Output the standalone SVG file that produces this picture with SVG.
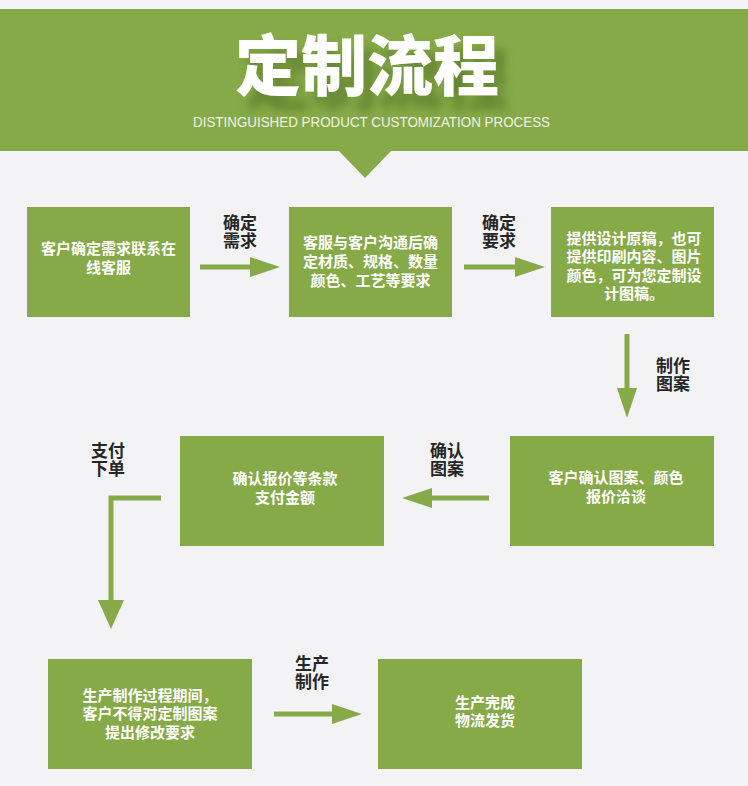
<svg xmlns="http://www.w3.org/2000/svg" width="748" height="786" viewBox="0 0 748 786">
<defs>
<style>
.box{fill:#86aa48}
.bt{font-family:"Noto Sans CJK SC","Noto Sans",sans-serif;font-size:15px;font-weight:700;fill:#ffffff;text-anchor:middle}
.lb{font-family:"Noto Sans CJK SC","Noto Sans",sans-serif;font-size:17px;font-weight:700;fill:#262626;text-anchor:middle}
.ln{fill:none;stroke:#86aa48;stroke-width:5}
</style>
<marker id="ah" markerUnits="userSpaceOnUse" markerWidth="32" markerHeight="20" refX="1" refY="10" orient="auto" viewBox="0 0 30 20">
<path d="M0,0 L30,10 L0,20 z" fill="#86aa48"/>
</marker>
<marker id="ahw" markerUnits="userSpaceOnUse" markerWidth="30" markerHeight="26" refX="1" refY="13" orient="auto" viewBox="0 0 29 26">
<path d="M0,0 L29,13 L0,26 z" fill="#86aa48"/>
</marker>
<filter id="sh" x="-20%" y="-30%" width="150%" height="190%">
<feGaussianBlur in="SourceAlpha" stdDeviation="5" result="b"/>
<feOffset in="b" dx="10" dy="14" result="o"/>
<feFlood flood-color="#4a6820" flood-opacity="0.55"/>
<feComposite in2="o" operator="in" result="s"/>
<feMerge><feMergeNode in="s"/><feMergeNode in="SourceGraphic"/></feMerge>
</filter>
</defs>
<rect x="0" y="0" width="748" height="786" fill="#f3f3f6"/>
<g id="header">
<rect x="0" y="9" width="748" height="142" fill="#86aa48"/>
<path d="M338,150 L392,150 L365,178 z" fill="#86aa48"/>
<text x="367" y="90" text-anchor="middle" font-family="'Noto Sans CJK SC',sans-serif" font-size="66" font-weight="900" fill="#ffffff" filter="url(#sh)">定制流程</text>
<text x="193" y="127" font-family="'Liberation Sans',Arial,sans-serif" font-size="14" fill="#eef3e6" textLength="357" lengthAdjust="spacingAndGlyphs">DISTINGUISHED PRODUCT CUSTOMIZATION PROCESS</text>
</g>
<g id="connectors">
<line class="ln" x1="200" y1="267" x2="251" y2="267" marker-end="url(#ah)"/>
<line class="ln" x1="464" y1="267" x2="516" y2="267" marker-end="url(#ah)"/>
<line class="ln" x1="627" y1="334" x2="627" y2="389" marker-end="url(#ah)"/>
<line class="ln" x1="489" y1="498" x2="431" y2="498" marker-end="url(#ah)"/>
<polyline class="ln" points="161,498 111,498 111,601" marker-end="url(#ahw)"/>
<line class="ln" x1="274" y1="714" x2="333" y2="714" marker-end="url(#ah)"/>
<g id="labels">
<text class="lb" x="240" y="229">确定<tspan x="240" dy="17.5">需求</tspan></text>
<text class="lb" x="499" y="229">确定<tspan x="499" dy="17.5">要求</tspan></text>
<text class="lb" x="673" y="372">制作<tspan x="673" dy="17.5">图案</tspan></text>
<text class="lb" x="447" y="457">确认<tspan x="447" dy="17.5">图案</tspan></text>
<text class="lb" x="108" y="457">支付<tspan x="108" dy="17.5">下单</tspan></text>
<text class="lb" x="312" y="670">生产<tspan x="312" dy="17.5">制作</tspan></text>
</g>
</g>
<g id="n1">
<rect class="box" x="27" y="207" width="163" height="110"/>
<text class="bt" x="108.5" y="253.5">客户确定需求联系在</text>
<text class="bt" x="108.5" y="273">线客服</text>
</g>
<g id="n2">
<rect class="box" x="289" y="207" width="163" height="110"/>
<text class="bt" x="370.5" y="247.5">客服与客户沟通后确</text>
<text class="bt" x="370.5" y="266.5">定材质、规格、数量</text>
<text class="bt" x="370.5" y="285.5">颜色、工艺等要求</text>
</g>
<g id="n3">
<rect class="box" x="551" y="207" width="163" height="110"/>
<text class="bt" x="634" y="243.5">提供设计原稿，也可</text>
<text class="bt" x="634" y="262">提供印刷内容、图片</text>
<text class="bt" x="634" y="280.5">颜色，可为您定制设</text>
<text class="bt" x="634" y="299">计图稿。</text>
</g>
<g id="n4">
<rect class="box" x="180" y="436" width="204" height="110"/>
<text class="bt" x="285" y="483.5">确认报价等条款</text>
<text class="bt" x="285" y="503">支付金额</text>
</g>
<g id="n5">
<rect class="box" x="510" y="436" width="204" height="110"/>
<text class="bt" x="616" y="482.5">客户确认图案、颜色</text>
<text class="bt" x="616" y="501.5">报价洽谈</text>
</g>
<g id="n6">
<rect class="box" x="48" y="659" width="204" height="110"/>
<text class="bt" x="150" y="700.5">生产制作过程期间，</text>
<text class="bt" x="150" y="719">客户不得对定制图案</text>
<text class="bt" x="150" y="737.5">提出修改要求</text>
</g>
<g id="n7">
<rect class="box" x="378" y="659" width="204" height="110"/>
<text class="bt" x="485" y="707.5">生产完成</text>
<text class="bt" x="485" y="726">物流发货</text>
</g>
</svg>
